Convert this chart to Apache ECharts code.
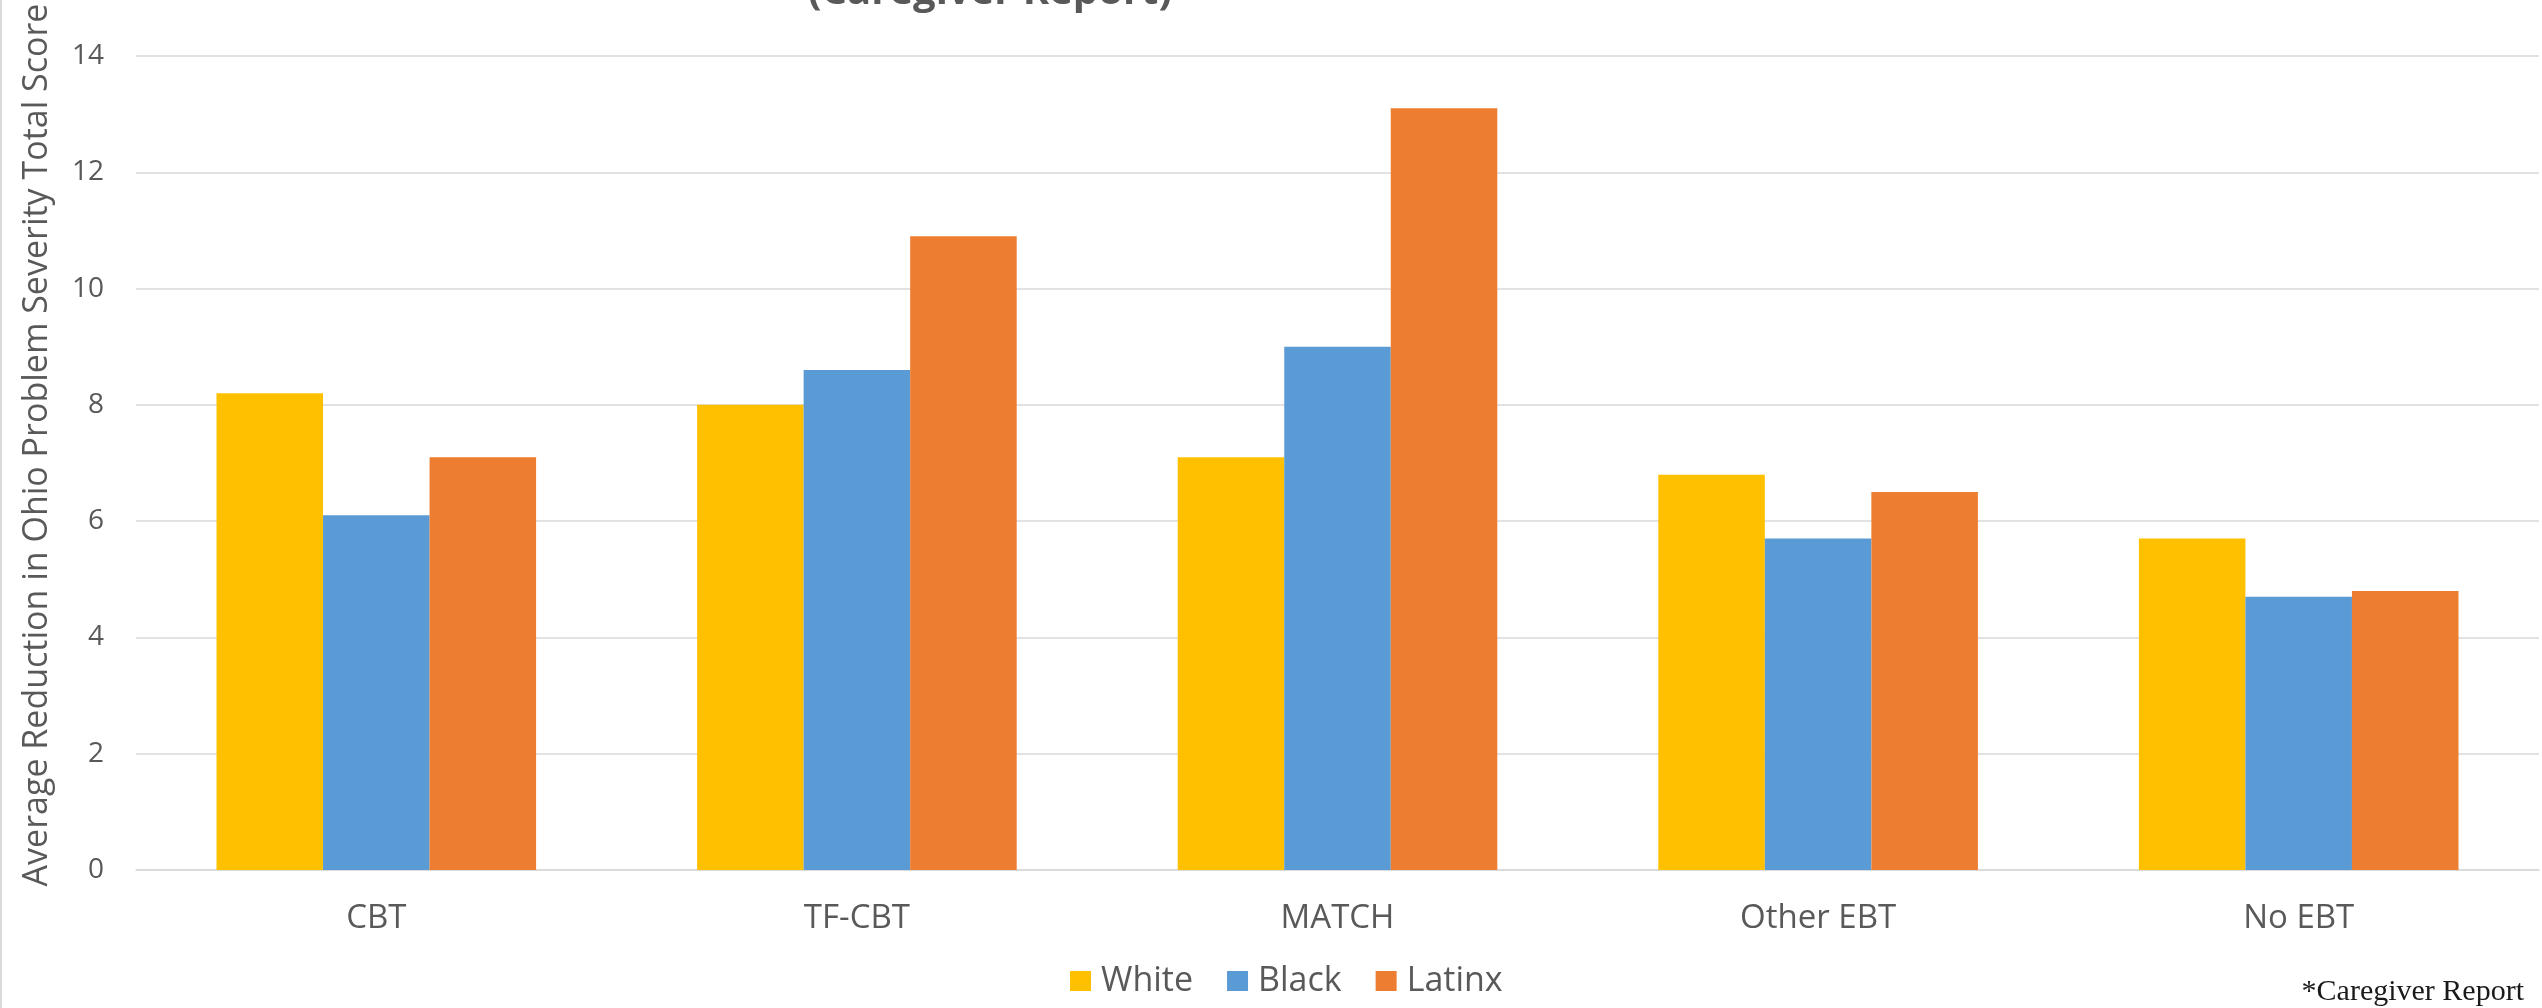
<!DOCTYPE html>
<html>
<head>
<meta charset="utf-8">
<script src="https://cdn.jsdelivr.net/npm/echarts@6/dist/echarts.min.js"></script>
<style>
  html, body { margin: 0; padding: 0; background: #ffffff; }
  #chart { width: 2542px; height: 1008px; }
</style>
</head>
<body>
<div id="chart"></div>
<script>
// Treatment groups along the x axis
const categories = ['CBT', 'TF-CBT', 'MATCH', 'Other EBT', 'No EBT'];

// Average reduction in Ohio Problem Severity total score, by group
const whiteValues  = [8.2, 8.0, 7.1, 6.8, 5.7];
const blackValues  = [6.1, 8.6, 9.0, 5.7, 4.7];
const latinxValues = [7.1, 10.9, 13.1, 6.5, 4.8];

const seriesNames = ['White', 'Black', 'Latinx'];
const yTicks = [0, 2, 4, 6, 8, 10, 12, 14];

const titleText = '(Caregiver Report)';
const yAxisTitle = 'Average Reduction in Ohio Problem Severity Total Score';
const footnote = '*Caregiver Report';

const colors = ['#FFC000', '#5B9BD5', '#ED7D31'];
const textGray = '#595959';
const gridGray = '#d9d9d9';

const chart = echarts.init(document.getElementById('chart'), null, { renderer: 'canvas' });

const option = {
  backgroundColor: '#ffffff',
  animation: false,
  color: colors,
  textStyle: { fontFamily: '"Open Sans", sans-serif' },
  grid: { left: 136, right: 3, top: 56, bottom: 138, containLabel: false },
  legend: {
    data: seriesNames,
    left: 1070,
    top: 964,
    padding: 0,
    itemWidth: 21,
    itemHeight: 20,
    itemGap: 34,
    icon: 'rect',
    textStyle: { color: textGray, fontSize: 34, padding: [0, 0, 0, 5], fontFamily: '"Open Sans", sans-serif' }
  },
  xAxis: {
    type: 'category',
    data: categories,
    axisTick: { show: false },
    axisLine: { show: true, lineStyle: { color: gridGray, width: 1.5 } },
    axisLabel: { color: textGray, fontSize: 33, margin: 32, fontFamily: '"Open Sans", sans-serif' }
  },
  yAxis: {
    type: 'value',
    min: yTicks[0],
    max: yTicks[yTicks.length - 1],
    interval: yTicks[1] - yTicks[0],
    axisLine: { show: false },
    axisTick: { show: false },
    splitLine: { show: true, lineStyle: { color: gridGray, width: 1.5 } },
    axisLabel: { color: textGray, fontSize: 28, margin: 32, fontFamily: '"Open Sans", sans-serif' }
  },
  series: [
    { name: seriesNames[0], type: 'bar', data: whiteValues, barGap: '0%', barCategoryGap: '33.5%' },
    { name: seriesNames[1], type: 'bar', data: blackValues, barGap: '0%', barCategoryGap: '33.5%' },
    { name: seriesNames[2], type: 'bar', data: latinxValues, barGap: '0%', barCategoryGap: '33.5%' }
  ],
  graphic: [
    {
      type: 'line',
      shape: { x1: 1, y1: 0, x2: 1, y2: 1008 },
      style: { stroke: '#d9d9d9', lineWidth: 2 },
      silent: true
    },
    {
      type: 'text',
      x: 990,
      y: -7,
      style: {
        text: titleText,
        fill: textGray,
        font: 'bold 40px "Open Sans", sans-serif',
        align: 'center',
        verticalAlign: 'middle'
      },
      silent: true
    },
    {
      type: 'text',
      x: 37,
      y: 445,
      rotation: Math.PI / 2,
      style: {
        text: yAxisTitle,
        fill: textGray,
        font: '34px "Open Sans", sans-serif',
        align: 'center',
        verticalAlign: 'middle'
      },
      silent: true
    },
    {
      type: 'text',
      x: 2524,
      y: 992,
      style: {
        text: footnote,
        fill: '#1a1a1a',
        font: '30px "Liberation Serif", serif',
        align: 'right',
        verticalAlign: 'middle'
      },
      silent: true
    }
  ]
};

chart.setOption(option);
</script>
</body>
</html>
